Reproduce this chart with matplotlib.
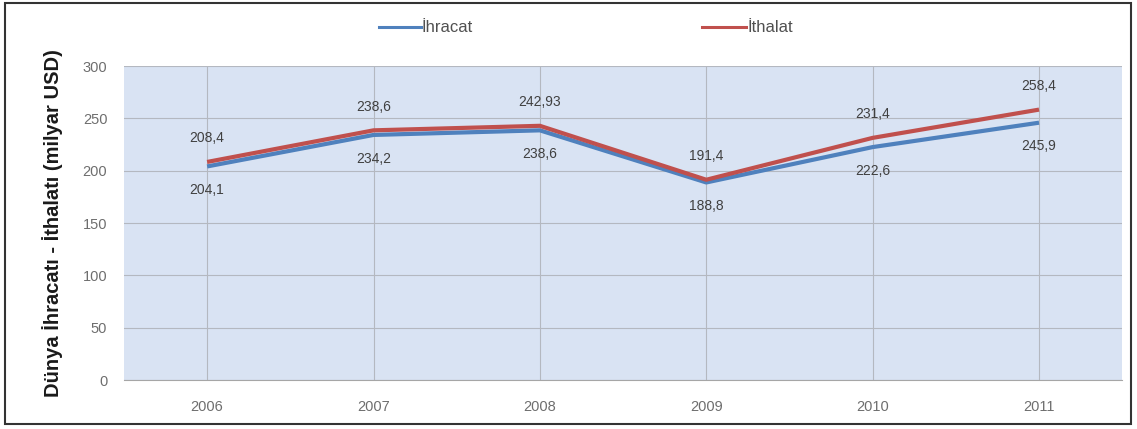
import matplotlib
matplotlib.use('Agg')
import numpy as np
import matplotlib.pyplot as plt
from matplotlib.patches import Rectangle

plt.rcParams['font.family'] = ['Liberation Sans', 'DejaVu Sans']

years = ['2006', '2007', '2008', '2009', '2010', '2011']
ihracat = [204.1, 234.2, 238.6, 188.8, 222.6, 245.9]
ithalat = [208.4, 238.6, 242.93, 191.4, 231.4, 258.4]
ihracat_labels = ['204,1', '234,2', '238,6', '188,8', '222,6', '245,9']
ithalat_labels = ['208,4', '238,6', '242,93', '191,4', '231,4', '258,4']

blue = '#4F81BD'
red = '#C0504D'

fig = plt.figure(figsize=(11.37, 4.29), dpi=100)
ax = fig.add_axes([0.109, 0.114, 0.878, 0.732])

x = np.arange(len(years))
ax.set_facecolor('#D9E3F3')
ax.plot(x, ihracat, color=blue, lw=3, solid_capstyle='butt', zorder=3)
ax.plot(x, ithalat, color=red, lw=3, solid_capstyle='butt', zorder=4)

for xi, v, s in zip(x, ihracat, ihracat_labels):
    ax.annotate(s, (xi, v), xytext=(0, -17), textcoords='offset points',
                ha='center', va='center', fontsize=10, color='#404040')
for xi, v, s in zip(x, ithalat, ithalat_labels):
    ax.annotate(s, (xi, v), xytext=(0, 17), textcoords='offset points',
                ha='center', va='center', fontsize=10, color='#404040')

ax.set_xlim(-0.5, 5.5)
ax.set_ylim(0, 300)
ax.set_yticks(range(0, 301, 50))
ax.set_xticks(x)
ax.set_xticklabels(years)
ax.grid(True, color='#B4B8C0', lw=0.8)
ax.set_axisbelow(True)
for sp in ax.spines.values():
    sp.set_visible(False)
ax.spines['bottom'].set_visible(True)
ax.spines['bottom'].set_color('#A6A6A6')
ax.tick_params(axis='both', length=0, colors='#6E6E6E', labelsize=10.5, pad=12)
ax.tick_params(axis='x', pad=14)
ax.set_ylabel('Dünya İhracatı - İthalatı (milyar USD)', fontsize=14.5,
              fontweight='bold', color='#1a1a1a', labelpad=14)

# legend on top
fig.add_artist(plt.Line2D([0.333, 0.370], [0.937, 0.937], color=blue, lw=2.2))
fig.text(0.371, 0.937, 'İhracat', fontsize=12, color='#505050', va='center')
fig.add_artist(plt.Line2D([0.617, 0.656], [0.937, 0.937], color=red, lw=2.2))
fig.text(0.657, 0.937, 'İthalat', fontsize=12, color='#505050', va='center')

# outer frame
fig.add_artist(Rectangle((0.004, 0.012), 0.991, 0.982, transform=fig.transFigure,
                         fill=False, ec='#333333', lw=1.5))

fig.savefig('out.png', dpi=100)
